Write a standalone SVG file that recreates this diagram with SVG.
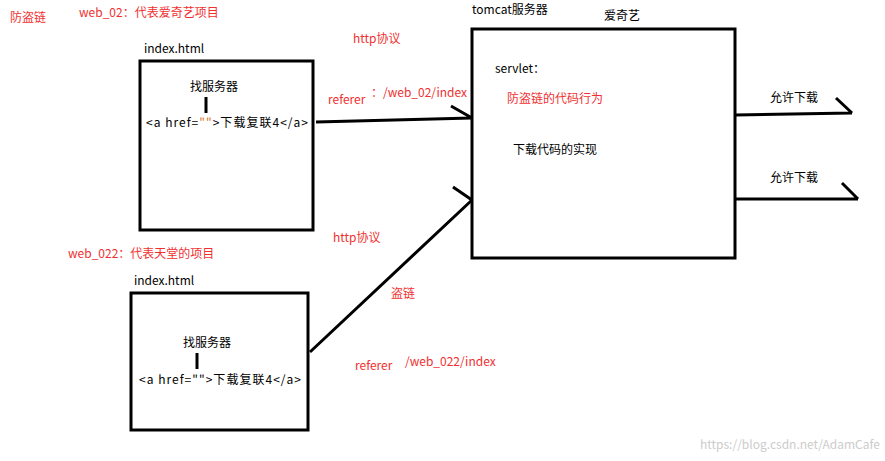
<svg xmlns="http://www.w3.org/2000/svg" width="885" height="461" viewBox="0 0 885 461">
<style>
text{font-family:"Noto Sans CJK SC","Liberation Sans",sans-serif;font-size:12px;fill:#000}
.r{fill:#f03030}
.box{fill:#fff;stroke:#000;stroke-width:3}
.ln{stroke:#000;stroke-width:3;fill:none}
</style>
<rect width="885" height="461" fill="#fff"/>
<text class="r" x="10" y="22">防盗链</text>
<text class="r" x="79" y="17">web_02：代表爱奇艺项目</text>
<text class="r" x="68" y="258">web_022：代表天堂的项目</text>
<text class="r" x="353" y="43">http协议</text>
<text class="r" x="333" y="242">http协议</text>
<text class="r" x="391" y="298">盗链</text>
<text class="r" x="355" y="370">referer</text>
<text class="r" x="405" y="366">/web_022/index</text>
<text class="r" x="328" y="104">referer</text>
<text class="r" x="371" y="97">：/web_02/index</text>
<g id="box1">
<text x="144" y="53">index.html</text>
<rect class="box" x="140" y="61" width="173" height="169"/>
<text x="190" y="91">找服务器</text>
<line class="ln" x1="206" y1="97" x2="206" y2="113"/>
<text x="146" y="127" textLength="162" lengthAdjust="spacing">&lt;a href=<tspan style="fill:#e07020">""</tspan>&gt;下载复联4&lt;/a&gt;</text>
</g>
<g id="box2">
<text x="134" y="285">index.html</text>
<rect class="box" x="131" y="293" width="177" height="137"/>
<text x="183" y="347">找服务器</text>
<line class="ln" x1="197" y1="353" x2="197" y2="369"/>
<text x="139" y="384" textLength="162" lengthAdjust="spacing">&lt;a href=""&gt;下载复联4&lt;/a&gt;</text>
</g>
<g id="tomcat">
<text x="472" y="14">tomcat服务器</text>
<text x="604" y="20">爱奇艺</text>
<rect class="box" x="472" y="29" width="263" height="229"/>
<text x="495" y="73">servlet：</text>
<text class="r" x="507" y="103">防盗链的代码行为</text>
<text x="513" y="154">下载代码的实现</text>
</g>
<text x="770" y="102">允许下载</text>
<text x="770" y="182">允许下载</text>
<g id="connectors">
<path class="ln" d="M316 122 L472 118 M451 106 L472 118"/>
<path class="ln" d="M310 352 L472 200 M453 187 L472 200"/>
<path class="ln" d="M735 115 L852 113 M836 98 L852 113"/>
<path class="ln" d="M735 199 L858 199 M842 183 L858 199"/>
</g>
<text x="700" y="449" style="fill:#ccc">https://blog.csdn.net/AdamCafe</text>
</svg>
